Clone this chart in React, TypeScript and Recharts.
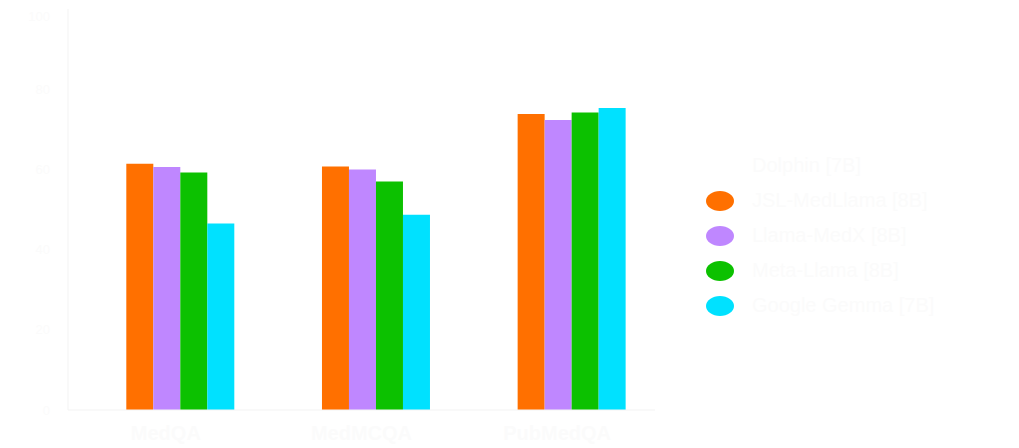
import { BarChart, Bar, XAxis, YAxis, Legend } from 'recharts'

const categories = ['MedQA', 'MedMCQA', 'PubMedQA']
const seriesNames = ['Dolphin [7B]', 'JSL-MedLlama [8B]', 'Llama-MedX [8B]', 'Meta-Llama [8B]', 'Google Gemma [7B]']
const seriesColors = ['#ffffff', '#ff7000', '#bf87ff', '#0cc100', '#00e1ff']
const dolphin = [65, 63, 76]
const jslMedLlama = [61.4, 60.7, 73.8]
const llamaMedX = [60.6, 60, 72.3]
const metaLlama = [59.2, 57, 74.2]
const gemma = [46.5, 48.7, 75.3]
const yTicks = [0, 20, 40, 60, 80, 100]

const seriesValues = [dolphin, jslMedLlama, llamaMedX, metaLlama, gemma]
const keys = ['s0', 's1', 's2', 's3', 's4']

const data = categories.map((name, i) => {
  const row: Record<string, string | number> = { name }
  keys.forEach((k, j) => {
    row[k] = seriesValues[j][i]
  })
  return row
})

const textColor = '#fbfbfb'

function LegendBox() {
  return (
    <div style={{ fontFamily: 'Liberation Sans, Arial, sans-serif', fontSize: 20, color: textColor }}>
      {seriesNames.map((n, i) => (
        <div key={n} style={{ display: 'flex', alignItems: 'center', height: 35 }}>
          <svg width={30} height={22} style={{ marginRight: 17 }}>
            <ellipse cx={15} cy={11} rx={14} ry={10} fill={seriesColors[i]} />
          </svg>
          <span>{n}</span>
        </div>
      ))}
    </div>
  )
}

export default function App() {
  return (
    <BarChart
      width={1003}
      height={440}
      data={data}
      margin={{ top: 1, right: 96, bottom: 8, left: 0 }}
      barGap={0}
      barCategoryGap="16%"
    >
      <XAxis
        dataKey="name"
        stroke="#f3f3f3"
        tickLine={false}
        height={30}
        tick={{ fill: textColor, fontSize: 20, fontWeight: 'bold', fontFamily: 'Liberation Sans, Arial, sans-serif' }}
        tickMargin={10}
      />
      <YAxis
        domain={[0, 100]}
        ticks={yTicks}
        stroke="#f3f3f3"
        tickLine={false}
        width={60}
        tick={{ fill: textColor, fontSize: 13, fontFamily: 'Liberation Sans, Arial, sans-serif' }}
        tickMargin={12}
      />
      <Legend
        layout="vertical"
        verticalAlign="middle"
        align="right"
        width={260}
        content={() => <LegendBox />}
        wrapperStyle={{ left: 697, top: 140, width: 260 }}
      />
      {keys.map((k, j) => (
        <Bar key={k} dataKey={k} name={seriesNames[j]} fill={seriesColors[j]} isAnimationActive={false} />
      ))}
    </BarChart>
  )
}
